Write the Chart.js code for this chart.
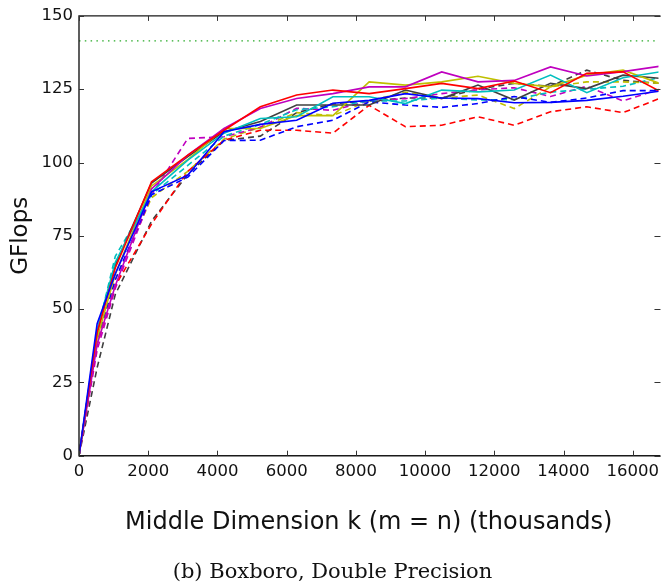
<!DOCTYPE html>
<html>
<head>
<meta charset="utf-8">
<script src="https://cdn.jsdelivr.net/npm/chart.js@4.4.0/dist/chart.umd.min.js"></script>
<style>
  html, body { margin: 0; padding: 0; background: #fff; overflow: hidden; }
  #wrap { position: relative; width: 665px; height: 585px; }
  #caption {
    position: absolute; left: 0; top: 559px; width: 665px;
    text-align: center; font-family: "DejaVu Serif", serif;
    font-size: 21px; line-height: 24px; color: #111;
  }
</style>
</head>
<body>
<div id="wrap">
  <canvas id="myChart" width="665" height="585"></canvas>
  <div id="caption">(b) Boxboro, Double Precision</div>
</div>
<script>
// middle dimension k
var kValues = [0, 524, 1048, 2096, 3144, 4192, 5240, 6288, 7336, 8384, 9432, 10480, 11528, 12576, 13624, 14672, 15720, 16768];

// GFlops, solid runs
var blueSolid    = [0, 45, 62, 90, 95.7, 110.5, 113, 114.4, 120.2, 121.2, 123.5, 122, 121.8, 120.4, 120.5, 121.2, 122.6, 124.3];
var redSolid     = [0, 42, 64, 93.4, 102.5, 111, 119, 123, 124.7, 123.5, 125.2, 127, 125.2, 127.8, 123.8, 130.4, 130.9, 124.4];
var cyanSolid    = [0, 43, 66, 90, 100.8, 110, 115, 115.6, 122.4, 122.4, 120.1, 124.7, 124.1, 124.7, 129.8, 123.8, 128.9, 130.9];
var magentaSolid = [0, 38, 58, 91, 102.5, 111.6, 118.4, 121.8, 123.5, 125.8, 125.8, 130.9, 127.5, 128, 132.6, 129.5, 131, 132.8];
var yellowSolid  = [0, 40, 62, 92, 101, 111.6, 111.6, 116, 116, 127.5, 126.4, 127.5, 129.4, 127, 125.8, 129.8, 131.5, 127];
var blackSolid   = [0, 42, 65, 93, 102, 110.5, 114, 119.6, 119.6, 119.6, 124.7, 121.8, 126.4, 121.3, 127, 125.2, 129.8, 128.7];

// GFlops, dashed runs
var blueDashed    = [0, 40, 60, 89, 95, 107.5, 107.6, 112.2, 114.4, 120.7, 119.6, 118.8, 120.1, 122.5, 120.5, 122, 124.5, 124.5];
var redDashed     = [0, 38, 58, 79, 97, 107.6, 111, 111, 110, 119.5, 112.2, 112.7, 115.6, 112.7, 117.3, 119, 117, 121.8];
var cyanDashed    = [0, 42, 68, 89, 99, 109, 113, 118, 119, 121, 121, 122, 121.3, 121.5, 124, 125, 126, 129];
var magentaDashed = [0, 36, 57, 89, 108.2, 108.8, 112, 118.5, 117.8, 121, 121.8, 123.5, 124.8, 125.5, 122.5, 126, 121, 125];
var yellowDashed  = [0, 39, 60, 88, 97, 108, 112, 117, 116, 121, 124, 122, 123, 118.4, 125.8, 127.5, 127.5, 127];
var blackDashed   = [0, 30, 55, 80, 96, 107.5, 109, 117, 120, 121, 122, 122, 125, 127, 126, 131.5, 128, 127];

var peakLine = [141.5, 141.5];
var peakK = [0, 16800];

var xTicks = [0, 2000, 4000, 6000, 8000, 10000, 12000, 14000, 16000];
var yTicks = [0, 25, 50, 75, 100, 125, 150];

function pts(xs, ys) {
  var out = [];
  for (var i = 0; i < ys.length; i++) {
    out.push({ x: xs[i], y: ys[i] });
  }
  return out;
}

function run(label, values, color, dashed) {
  return {
    label: label,
    data: pts(kValues, values),
    borderColor: color,
    borderWidth: 1.6,
    borderDash: dashed ? [6, 4] : [],
    pointRadius: 0,
    fill: false,
    tension: 0
  };
}

// box round the plot with inward ticks; the right edge of the box sits just past the window
var framePlugin = {
  id: "frame",
  afterDatasetsDraw: function (chart) {
    var ctx = chart.ctx;
    var a = chart.chartArea;
    var xs = chart.scales.x;
    var ys = chart.scales.y;
    var right = a.right + 2;
    ctx.save();
    ctx.strokeStyle = "#1a1a1a";
    ctx.lineWidth = 1.4;
    ctx.beginPath();
    ctx.moveTo(right, a.top);
    ctx.lineTo(a.left, a.top);
    ctx.lineTo(a.left, a.bottom);
    ctx.lineTo(right, a.bottom);
    ctx.stroke();
    ctx.lineWidth = 1;
    ctx.strokeStyle = "#333";
    ctx.beginPath();
    xs.ticks.forEach(function (t) {
      var px = Math.round(xs.getPixelForValue(t.value)) + 0.5;
      ctx.moveTo(px, a.bottom); ctx.lineTo(px, a.bottom - 5);
      ctx.moveTo(px, a.top); ctx.lineTo(px, a.top + 5);
    });
    ys.ticks.forEach(function (t) {
      var py = Math.round(ys.getPixelForValue(t.value)) + 0.5;
      ctx.moveTo(a.left, py); ctx.lineTo(a.left + 5, py);
      ctx.moveTo(right, py); ctx.lineTo(right - 6, py);
    });
    ctx.stroke();
    ctx.restore();
  }
};

var ctx = document.getElementById("myChart").getContext("2d");
var myChart = new Chart(ctx, {
  type: "line",
  data: {
    datasets: [
      {
        label: "peak",
        data: pts(peakK, peakLine),
        borderColor: "rgb(40, 170, 40)",
        borderWidth: 1.3,
        borderDash: [1.5, 4.3],
        pointRadius: 0,
        fill: false
      },
      run("blue", blueSolid, "#0000ff", false),
      run("red", redSolid, "#ff0000", false),
      run("cyan", cyanSolid, "#00bfbf", false),
      run("magenta", magentaSolid, "#bf00bf", false),
      run("yellow", yellowSolid, "#bfbf00", false),
      run("black", blackSolid, "#404040", false),
      run("blue dashed", blueDashed, "#0000ff", true),
      run("red dashed", redDashed, "#ff0000", true),
      run("cyan dashed", cyanDashed, "#00bfbf", true),
      run("magenta dashed", magentaDashed, "#bf00bf", true),
      run("yellow dashed", yellowDashed, "#bfbf00", true),
      run("black dashed", blackDashed, "#404040", true)
    ]
  },
  options: {
    responsive: false,
    animation: false,
    layout: { padding: { top: 15.7, right: 0, left: 0, bottom: 0 } },
    plugins: {
      legend: { display: false },
      tooltip: { enabled: false }
    },
    scales: {
      x: {
        type: "linear",
        min: 0,
        max: 16743,
        afterFit: function (scale) { scale.height = 129.3; },
        afterBuildTicks: function (scale) {
          scale.ticks = xTicks.map(function (v) { return { value: v }; });
        },
        grid: { display: false, drawTicks: false },
        border: { display: false },
        ticks: {
          color: "#111",
          padding: 6,
          maxRotation: 0,
          autoSkip: false,
          font: { family: "DejaVu Sans", size: 16.5 },
          callback: function (v) { return String(v); }
        },
        title: {
          display: true,
          text: "Middle Dimension k (m = n) (thousands)",
          color: "#111",
          font: { family: "DejaVu Sans", size: 24 },
          padding: { top: 0, bottom: 48 }
        }
      },
      y: {
        min: 0,
        max: 150,
        afterFit: function (scale) { scale.width = 79; },
        afterBuildTicks: function (scale) {
          scale.ticks = yTicks.map(function (v) { return { value: v }; });
        },
        grid: { display: false, drawTicks: false },
        border: { display: false },
        ticks: {
          color: "#111",
          padding: 6,
          font: { family: "DejaVu Sans", size: 16.5 },
          callback: function (v) { return String(v); }
        },
        title: {
          display: true,
          text: "GFlops",
          color: "#111",
          font: { family: "DejaVu Sans", size: 23 },
          padding: { top: 7, bottom: 0 }
        }
      }
    }
  },
  plugins: [framePlugin]
});
</script>
</body>
</html>
